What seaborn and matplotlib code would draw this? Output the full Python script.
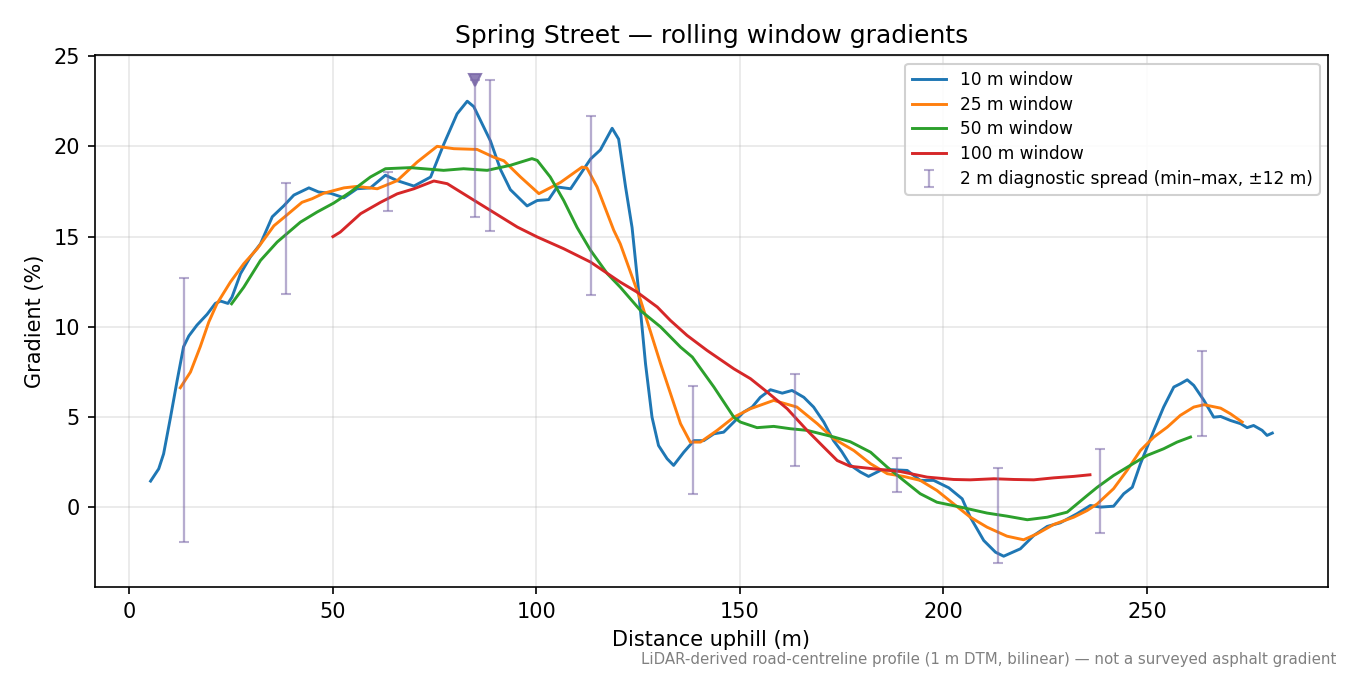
import numpy as np
import seaborn as sns
import matplotlib.pyplot as plt

# 10 m window (blue)
x10 = [5.2, 7.2, 8.4, 10.1, 11.7, 13.3, 14.6, 16.6, 19.1, 21.1, 22.4, 24.2, 25.2, 27.3, 29.7,
       32.2, 35.1, 37.9, 40.4, 44.1, 46.5, 49.4, 52.7, 55.9, 59.2, 62.9, 65.8, 69.9, 74.0, 77.2,
       80.5, 83.0, 84.6, 88.7, 91.2, 93.6, 97.7, 100.2, 103.0, 105.1, 108.4, 113.3, 115.7, 118.6,
       120.2, 121.9, 123.5, 125.1, 126.8, 128.4, 130.0, 132.1, 133.7, 136.2, 138.7, 141.1, 143.6,
       146.0, 148.5, 150.9, 153.0, 155.0, 157.5, 160.4, 162.8, 165.7, 168.1, 170.6, 173.0, 175.0,
       177.1, 179.6, 181.6, 184.5, 187.4, 191.1, 194.3, 197.6, 201.3, 204.6, 206.6, 209.9, 212.8,
       214.8, 218.9, 222.2, 225.5, 228.7, 232.8, 236.1, 238.6, 241.8, 244.3, 246.4, 248.4, 251.7,
       254.1, 256.6, 258.2, 259.9, 261.5, 264.0, 266.4, 268.1, 270.5, 273.0, 274.6, 276.2, 278.3,
       279.5, 280.8]
y10 = [1.46, 2.14, 2.97, 5.0, 7.0, 8.9, 9.5, 10.1, 10.7, 11.3, 11.43, 11.3, 11.65, 12.95, 13.87,
       14.6, 16.1, 16.7, 17.3, 17.7, 17.47, 17.4, 17.15, 17.65, 17.7, 18.4, 18.1, 17.8, 18.3, 20.1,
       21.8, 22.5, 22.2, 20.3, 18.7, 17.6, 16.7, 17.0, 17.05, 17.75, 17.65, 19.3, 19.8, 21.0,
       20.4, 17.75, 15.5, 12.0, 7.96, 5.0, 3.43, 2.7, 2.33, 3.06, 3.7, 3.7, 4.08,
       4.17, 4.73, 5.28, 5.56, 6.1, 6.52, 6.33, 6.48, 6.1, 5.56, 4.73, 3.7, 3.1,
       2.35, 1.96, 1.72, 2.05, 2.09, 2.05, 1.5, 1.5, 1.09, 0.48, -0.54, -1.83, -2.48,
       -2.7, -2.29, -1.55, -1.05, -0.85, -0.35, 0.11, 0.02, 0.07, 0.76, 1.12, 2.42, 4.27,
       5.56, 6.67, 6.85, 7.07, 6.76, 5.93, 5.0, 5.04, 4.82, 4.64, 4.42, 4.54, 4.27,
       3.99, 4.12]

# 25 m window (orange)
x25 = [12.5, 15.0, 17.4, 19.5, 21.5, 24.8, 28.1, 31.4, 35.5, 38.7, 42.4, 44.9, 47.7, 52.7, 55.9,
       60.9, 65.8, 70.7, 75.6, 79.7, 85.4, 89.5, 92.0, 96.1, 100.6, 105.9, 111.2, 112.4, 114.9,
       119.0, 120.6, 125.6, 130.5, 135.4, 137.8, 140.3, 144.4, 148.5, 152.6, 158.3, 164.0, 169.0,
       173.1, 178.0, 182.1, 186.2, 190.2, 194.3, 198.4, 202.5, 206.6, 210.7, 215.6, 219.7, 223.0,
       227.1, 232.0, 235.3, 237.8, 241.8, 245.1, 248.4, 251.7, 255.0, 258.2, 261.5, 264.0, 268.1,
       270.5, 273.4]
y25 = [6.63, 7.5, 8.9, 10.27, 11.28, 12.48, 13.5, 14.33, 15.6, 16.2, 16.9, 17.1, 17.4, 17.7, 17.78,
       17.65, 18.1, 19.13, 20.0, 19.87, 19.83, 19.4, 19.2, 18.3, 17.38, 18.0, 18.85, 18.8, 17.75,
       15.35, 14.6, 11.47, 7.96, 4.64, 3.62, 3.62, 4.27, 5.0, 5.47, 5.93, 5.56, 4.64,
       3.8, 3.15, 2.42, 1.87, 1.72, 1.5, 0.94, 0.2, -0.54, -1.09, -1.59, -1.79, -1.46,
       -0.94, -0.54, -0.17, 0.2, 1.04, 2.05, 3.16, 3.9, 4.45, 5.1, 5.56, 5.69, 5.5,
       5.19, 4.73]

# 50 m window (green)
x50 = [25.1, 28.1, 32.2, 36.3, 42.0, 46.1, 50.2, 54.3, 59.2, 62.9, 69.0, 77.2, 82.1, 87.9, 93.6,
       98.9, 100.2, 103.4, 106.7, 110.0, 113.3, 117.4, 120.6, 125.6, 130.5, 135.4, 138.3, 143.6,
       148.5, 150.1, 154.2, 158.3, 162.4, 166.5, 173.1, 177.1, 182.1, 186.2, 190.2, 194.3, 198.4,
       204.2, 210.7, 215.6, 220.6, 225.5, 230.4, 235.3, 237.8, 241.8, 245.9, 250.0, 254.1, 257.4,
       260.7]
y50 = [11.28, 12.2, 13.68, 14.7, 15.8, 16.36, 16.86, 17.47, 18.3, 18.76, 18.82, 18.67, 18.76, 18.67, 18.95,
       19.32, 19.22, 18.3, 17.0, 15.5, 14.24, 12.95, 12.2, 10.9, 10.0, 8.88, 8.33, 6.67,
       5.0, 4.73, 4.42, 4.49, 4.36, 4.27, 3.9, 3.64, 3.06, 2.23, 1.5, 0.76, 0.29,
       0.02, -0.31, -0.48, -0.68, -0.54, -0.26, 0.66, 1.12, 1.77, 2.33, 2.88, 3.25, 3.62,
       3.9]

# 100 m window (red)
x100 = [50.0, 51.8, 56.8, 61.7, 65.8, 69.9, 74.8, 78.1, 82.1, 88.7, 95.3, 100.2, 106.7, 113.3,
        120.6, 124.7, 129.7, 132.9, 137.0, 141.9, 148.5, 152.6, 156.7, 161.6, 166.5, 170.6, 173.9,
        177.1, 182.9, 189.4, 196.0, 202.5, 206.6, 212.4, 217.3, 222.2, 227.1, 232.0, 236.0]
y100 = [15.0, 15.25, 16.27, 16.9, 17.37, 17.65, 18.08, 17.93, 17.37, 16.45, 15.53, 14.98, 14.33, 13.59,
        12.48, 11.93, 11.1, 10.36, 9.53, 8.7, 7.68, 7.13, 6.39, 5.47, 4.27, 3.34, 2.6,
        2.28, 2.14, 1.99, 1.68, 1.55, 1.53, 1.59, 1.55, 1.53, 1.64, 1.72, 1.81]

# 2 m diagnostic spread (min-max)
spread_x = [13.5, 38.5, 63.5, 85.0, 88.5, 113.5, 138.5, 163.5, 188.5, 213.5, 238.5, 263.5]
spread_lo = [-1.9, 11.8, 16.4, 16.1, 15.3, 11.75, 0.75, 2.27, 0.85, -3.08, -1.39, 3.93]
spread_hi = [12.7, 17.97, 18.6, 23.7, 23.7, 21.7, 6.7, 7.4, 2.73, 2.18, 3.21, 8.64]

# steepest 2 m sample
peak_x = 85.0
peak_y = 23.7

series = [("10 m window", x10, y10), ("25 m window", x25, y25),
          ("50 m window", x50, y50), ("100 m window", x100, y100)]
colors = sns.color_palette("tab10", 4)

fig, ax = plt.subplots(figsize=(9, 4.5), dpi=150)
fig.subplots_adjust(left=0.07, right=0.984, top=0.918, bottom=0.13)

for (lab, xs, ys), c in zip(series, colors):
    sns.lineplot(x=xs, y=ys, ax=ax, color=c, lw=1.4, label=lab, sort=False)

lo = np.array(spread_lo)
hi = np.array(spread_hi)
mid = (lo + hi) / 2
ax.errorbar(spread_x, mid, yerr=[mid - lo, hi - mid], fmt='none', ecolor='#7a68a8',
            elinewidth=1.1, capsize=2.5, capthick=1.0, alpha=0.55,
            label="2 m diagnostic spread (min–max, ±12 m)")
ax.plot([peak_x], [peak_y], marker='v', ms=6, color='#7a68a8', alpha=0.85, ls='none')

ax.grid(True, alpha=0.3)
ax.set_title("Spring Street — rolling window gradients", fontsize=12)
ax.set_xlabel("Distance uphill (m)", fontsize=10)
ax.set_ylabel("Gradient (%)", fontsize=10)
ax.legend(loc='upper right', fontsize=8.2, labelspacing=0.4, framealpha=0.9)

fig.text(0.99, 0.012, "LiDAR-derived road-centreline profile (1 m DTM, bilinear) — not a surveyed asphalt gradient",
         ha='right', va='bottom', fontsize=7.2, color='gray')

fig.savefig("out.png", dpi=150)
